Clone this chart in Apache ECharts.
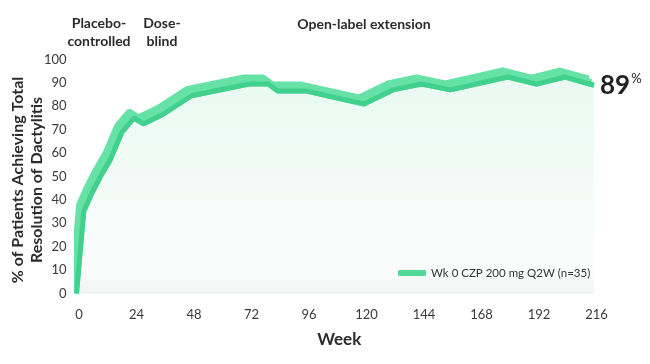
<!DOCTYPE html>
<html>
<head>
<meta charset="utf-8">
<script src="https://cdn.jsdelivr.net/npm/echarts@6/dist/echarts.min.js"></script>
<style>
html,body{margin:0;padding:0;background:#fff;}
#c{width:650px;height:364px;}
</style>
</head>
<body>
<div id="c"></div>
<script>
const weeks = [0, 3, 6, 10, 14, 19, 24, 28, 36, 48, 72, 80, 84, 96, 120, 132, 144, 156, 180, 192, 204, 216];
const values = [0, 35, 42, 50, 57, 69, 75, 72.5, 76.5, 84.5, 89.5, 89.5, 86.5, 86.5, 81, 87, 89.5, 87, 92.5, 89.5, 92.5, 89];
const seriesName = 'Wk 0 CZP 200 mg Q2W (n=35)';
const xTicks = [0, 24, 48, 72, 96, 120, 144, 168, 192, 216];
const phaseLines = [24, 48];
const phaseLabels = ['Placebo-\ncontrolled', 'Dose-\nblind', 'Open-label extension'];

const FONT = 'Lato';
const LIGHT = '#66e2a7';
const DARK = '#42d08f';
const points = weeks.map((w, i) => [w, values[i]]);

const chart = echarts.init(document.getElementById('c'));
chart.setOption({
  animation: false,
  textStyle: { fontFamily: FONT },
  grid: { left: 76.5, right: 56, top: 59.5, bottom: 70.5 },
  xAxis: {
    type: 'value', min: 0, max: 216, interval: 24,
    axisLine: { show: false }, axisTick: { show: false }, splitLine: { show: false },
    axisLabel: { color: '#3a3a3a', fontSize: 13, margin: 15, fontFamily: FONT, padding: [0, 0, 0, 5] },
    name: 'Week', nameLocation: 'middle', nameGap: 38,
    nameTextStyle: { fontFamily: FONT, fontWeight: 'bold', fontSize: 17, color: '#2b2b2b', padding: [0, 0, 0, 8] }
  },
  yAxis: {
    type: 'value', min: 0, max: 100, interval: 10,
    axisLine: { show: false }, axisTick: { show: false }, splitLine: { show: false },
    axisLabel: { color: '#3a3a3a', fontSize: 13, margin: 10, fontFamily: FONT }
  },
  legend: {
    left: 398, top: 267, padding: 0,
    icon: 'roundRect', itemWidth: 28, itemHeight: 6, itemGap: 10,
    textStyle: { fontFamily: FONT, fontSize: 11.5, color: '#333' },
    data: [{ name: seriesName, itemStyle: { color: '#4fd898' } }]
  },
  series: [{
    name: 'ribbon',
    type: 'line',
    data: points,
    symbol: 'none',
    clip: false,
    silent: true,
    lineStyle: {
      width: 5, color: LIGHT,
      shadowColor: LIGHT, shadowBlur: 0, shadowOffsetX: -2.5, shadowOffsetY: -3.5
    },
    areaStyle: {
      color: new echarts.graphic.LinearGradient(0, 0, 0, 1, [
        { offset: 0, color: '#dff6ec' },
        { offset: 0.9, color: '#f6faf8' },
        { offset: 1, color: '#eceeed' }
      ])
    }
  }, {
    name: seriesName,
    type: 'line',
    data: points,
    symbol: 'none',
    clip: false,
    lineStyle: {
      width: 5, color: DARK,
      shadowColor: LIGHT, shadowBlur: 0, shadowOffsetX: -5, shadowOffsetY: -7
    },
    itemStyle: { color: '#4fd898' },
    endLabel: {
      show: true, distance: 6,
      formatter: p => '{a|' + p.value[1] + '}{b|%}',
      rich: {
        a: { fontFamily: FONT, fontSize: 26, fontWeight: 'bold', color: '#222' },
        b: { fontFamily: FONT, fontSize: 13, color: '#222', verticalAlign: 'top', padding: [0, 0, 10, 1] }
      }
    },
    markLine: {
      silent: true, symbol: 'none',
      lineStyle: { color: '#555', type: [1, 3], width: 1, shadowBlur: 0, shadowColor: 'transparent' },
      label: { show: false },
      data: phaseLines.map(w => [{ coord: [w, 0] }, { coord: [w, 114] }])
    }
  }],
  graphic: [
    { type: 'text', x: 99, y: 32, style: { text: phaseLabels[0], textAlign: 'center', textVerticalAlign: 'middle', font: 'bold 14px ' + FONT, fill: '#2b2b2b', lineHeight: 18 } },
    { type: 'text', x: 162, y: 32, style: { text: phaseLabels[1], textAlign: 'center', textVerticalAlign: 'middle', font: 'bold 14px ' + FONT, fill: '#2b2b2b', lineHeight: 18 } },
    { type: 'text', x: 364, y: 24, style: { text: phaseLabels[2], textAlign: 'center', textVerticalAlign: 'middle', font: 'bold 14px ' + FONT, fill: '#2b2b2b' } },
    { type: 'text', x: 27, y: 180, rotation: Math.PI / 2,
      style: { text: '% of Patients Achieving Total\nResolution of Dactylitis', textAlign: 'center', textVerticalAlign: 'middle', font: 'bold 16px ' + FONT, fill: '#2b2b2b', lineHeight: 19 } }
  ]
});
</script>
</body>
</html>
